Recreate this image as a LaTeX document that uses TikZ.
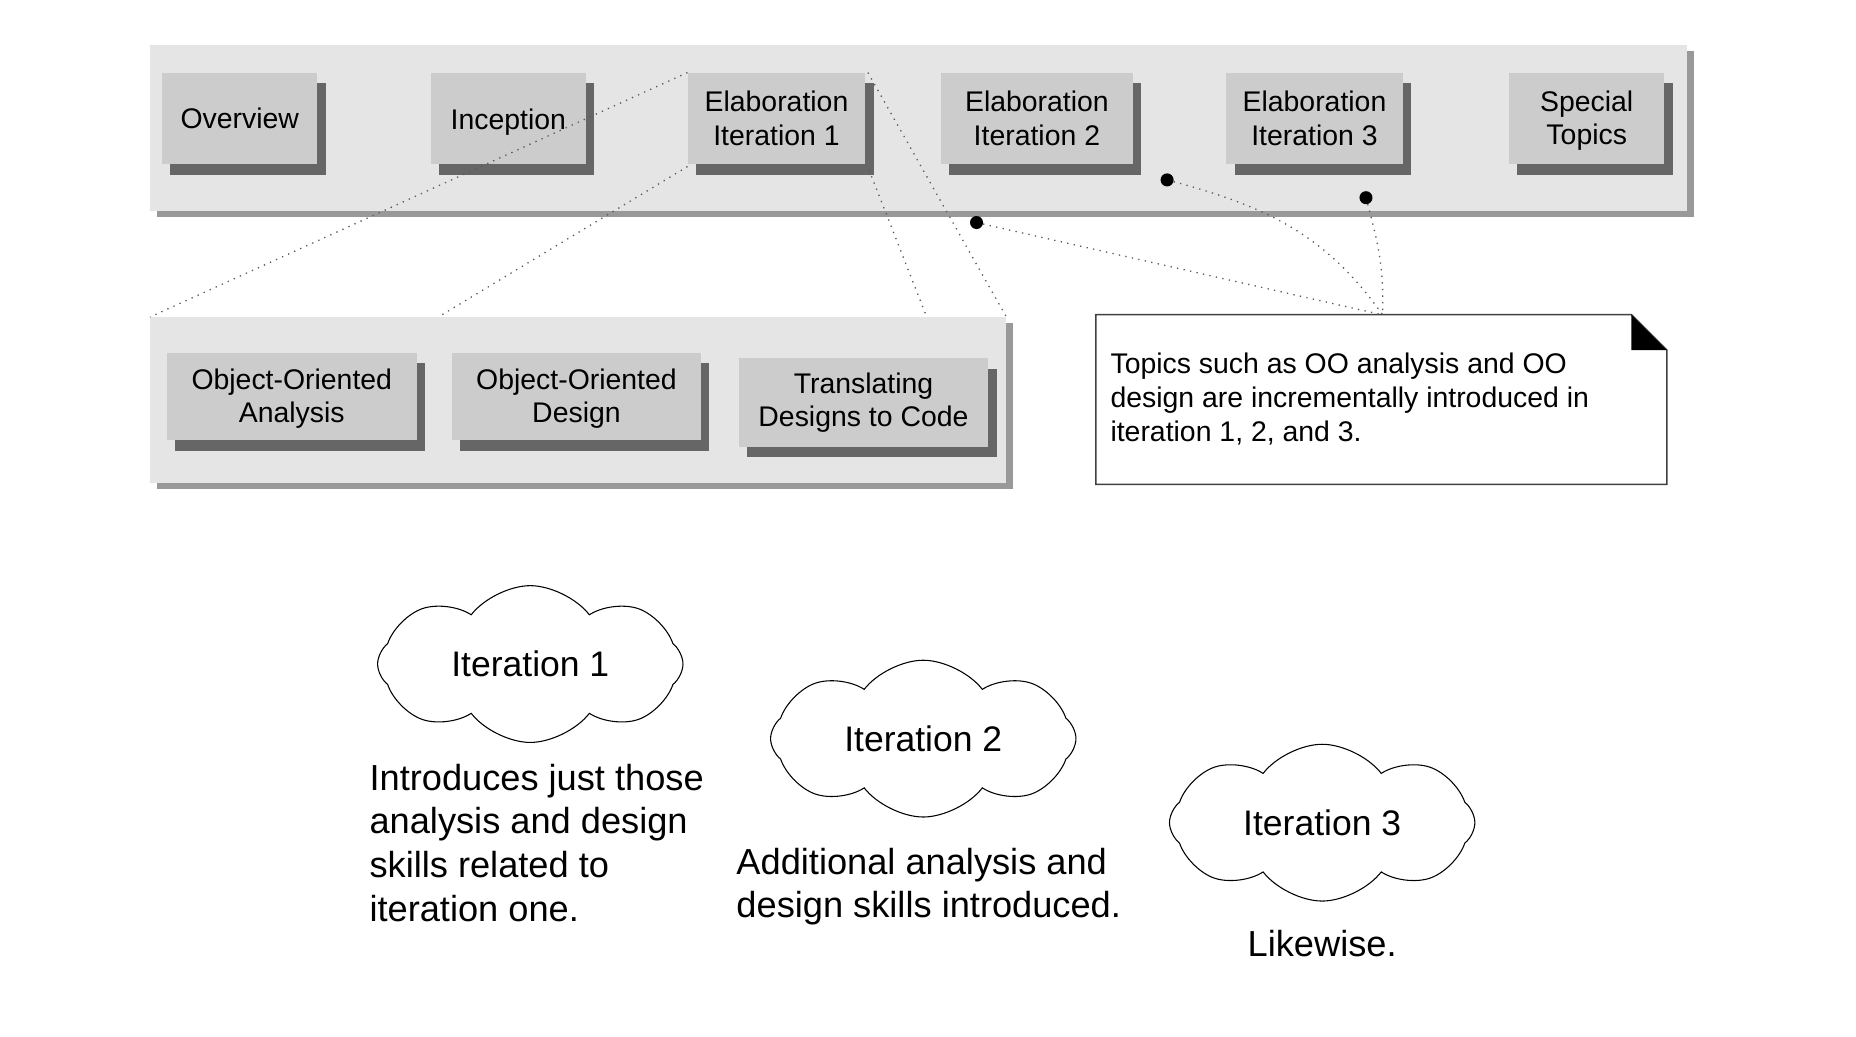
\documentclass[tikz,border=0pt]{standalone}
\usepackage{fontspec}
\setmainfont{Liberation Sans}
\usetikzlibrary{shadows,shapes.symbols}
\definecolor{panelgray}{gray}{0.90}
\definecolor{panelshadow}{gray}{0.60}
\definecolor{boxgray}{gray}{0.80}
\definecolor{boxshadow}{gray}{0.40}
\definecolor{dotgray}{gray}{0.35}
\newcommand{\lowerby}[2]{\raisebox{-#1}[\height][\depth]{#2}}
\begin{document}
\begin{tikzpicture}[x=1pt,y=-1pt,
  panel/.style={fill=panelgray, inner sep=0pt,
    drop shadow={shadow xshift=6pt, shadow yshift=-5pt, fill=panelshadow, opacity=1}},
  topic/.style={fill=boxgray, inner sep=0pt, align=center, minimum height=77pt,
    font=\fontsize{24}{28}\selectfont,
    drop shadow={shadow xshift=7pt, shadow yshift=-9pt, fill=boxshadow, opacity=1}},
  link/.style={draw=dotgray, line width=1.1pt, dash pattern=on 1.1pt off 4.5pt},
  pin/.style={circle, fill=black, inner sep=0pt, minimum size=11pt},
  thought/.style={cloud, draw=black, line width=0.9pt, cloud puffs=8, cloud puff arc=105,
    aspect=1.8, minimum width=258pt, minimum height=110pt, inner sep=0pt,
    font=\fontsize{30}{37}\selectfont},
  caption/.style={inner sep=0pt, align=left, font=\fontsize{30.6}{37}\selectfont}
]
\useasboundingbox (0,0) rectangle (1568,876);

% panels
\node[panel, minimum width=1298pt, minimum height=140pt] (topP) at (776,108) {};
\node[panel, minimum width=723pt, minimum height=140pt] (lowP) at (488.5,338) {};

% top topics
\node[topic, minimum width=131pt] (ov) at (202.5,100) {Overview};
\node[topic, minimum width=131pt] (inc) at (429.5,100) {\lowerby{3pt}{Inception}};
\node[topic, minimum width=150pt] (e1) at (656,100) {Elaboration\\Iteration 1};
\node[topic, minimum width=162pt] (e2) at (876,100) {Elaboration\\Iteration 2};
\node[topic, minimum width=149pt] (e3) at (1110.5,100) {Elaboration\\Iteration 3};
\node[topic, minimum width=131pt] (sp) at (1340.5,100) {\lowerby{2pt}{Special}\\\lowerby{2pt}{Topics}};

% lower topics
\node[topic, minimum width=211pt, minimum height=74pt] (ooa) at (246.5,335) {\lowerby{2pt}{Object-Oriented}\\\lowerby{2pt}{Analysis}};
\node[topic, minimum width=210pt, minimum height=74pt] (ood) at (487,335) {\lowerby{2pt}{Object-Oriented}\\\lowerby{2pt}{Design}};
\node[topic, minimum width=211pt, minimum height=75pt] (tdc) at (729.5,340) {Translating\\Designs to Code};

% zoom lines
\coordinate (lowA) at (370,268);
\coordinate (lowB) at (783,268);
\draw[link] (e1.north west) -- (lowP.north west);
\draw[link] ([yshift=-2pt]e1.south west) -- (lowA);
\draw[link] ([xshift=2pt]e1.north east) -- (lowP.north east);
\draw[link] ([xshift=3pt,yshift=-5pt]e1.south east) -- (lowB);

% note
\node[minimum width=482pt, minimum height=143pt, inner sep=0pt] (note) at (1167,337.5) {};
\draw[draw=black!75, line width=1.4pt] (note.south west) -- (note.north west) -- ([xshift=-30pt]note.north east)
  -- ([yshift=-30pt]note.north east) -- (note.south east) -- cycle;
\fill[black] ([xshift=-30pt]note.north east) -- ([xshift=-30pt,yshift=-30pt]note.north east)
  -- ([yshift=-30pt]note.north east) -- cycle;
\node[anchor=west, inner sep=0pt, align=left, font=\fontsize{24}{28.5}\selectfont] (notetxt) at (938,337)
  {Topics such as OO analysis and OO\\design are incrementally introduced in\\iteration 1, 2, and 3.};

% pins
\node[pin] (d1) at (986,152) {};
\node[pin] (d2) at (1154,167) {};
\node[pin] (d3) at (825,188) {};
\coordinate (notetop) at (1168,266);
\draw[link] (d3) -- (notetop);
\draw[link] (d1) to[out=-15, in=125] (notetop);
\draw[link] (d2) to[out=-75, in=88] (notetop);

% clouds
\node[thought] (c1) at (448,561) {Iteration 1};
\node[thought] (c2) at (780,624) {Iteration 2};
\node[thought] (c3) at (1117,695) {Iteration 3};

\node[caption, anchor=west] (t1) at (312,712) {Introduces just those\\analysis and design\\skills related to\\iteration one.};
\node[caption, anchor=west] (t2) at (622,749) {Additional analysis and\\design skills introduced.};
\node[caption] (t3) at (1117,797) {Likewise.};
\end{tikzpicture}
\end{document}
